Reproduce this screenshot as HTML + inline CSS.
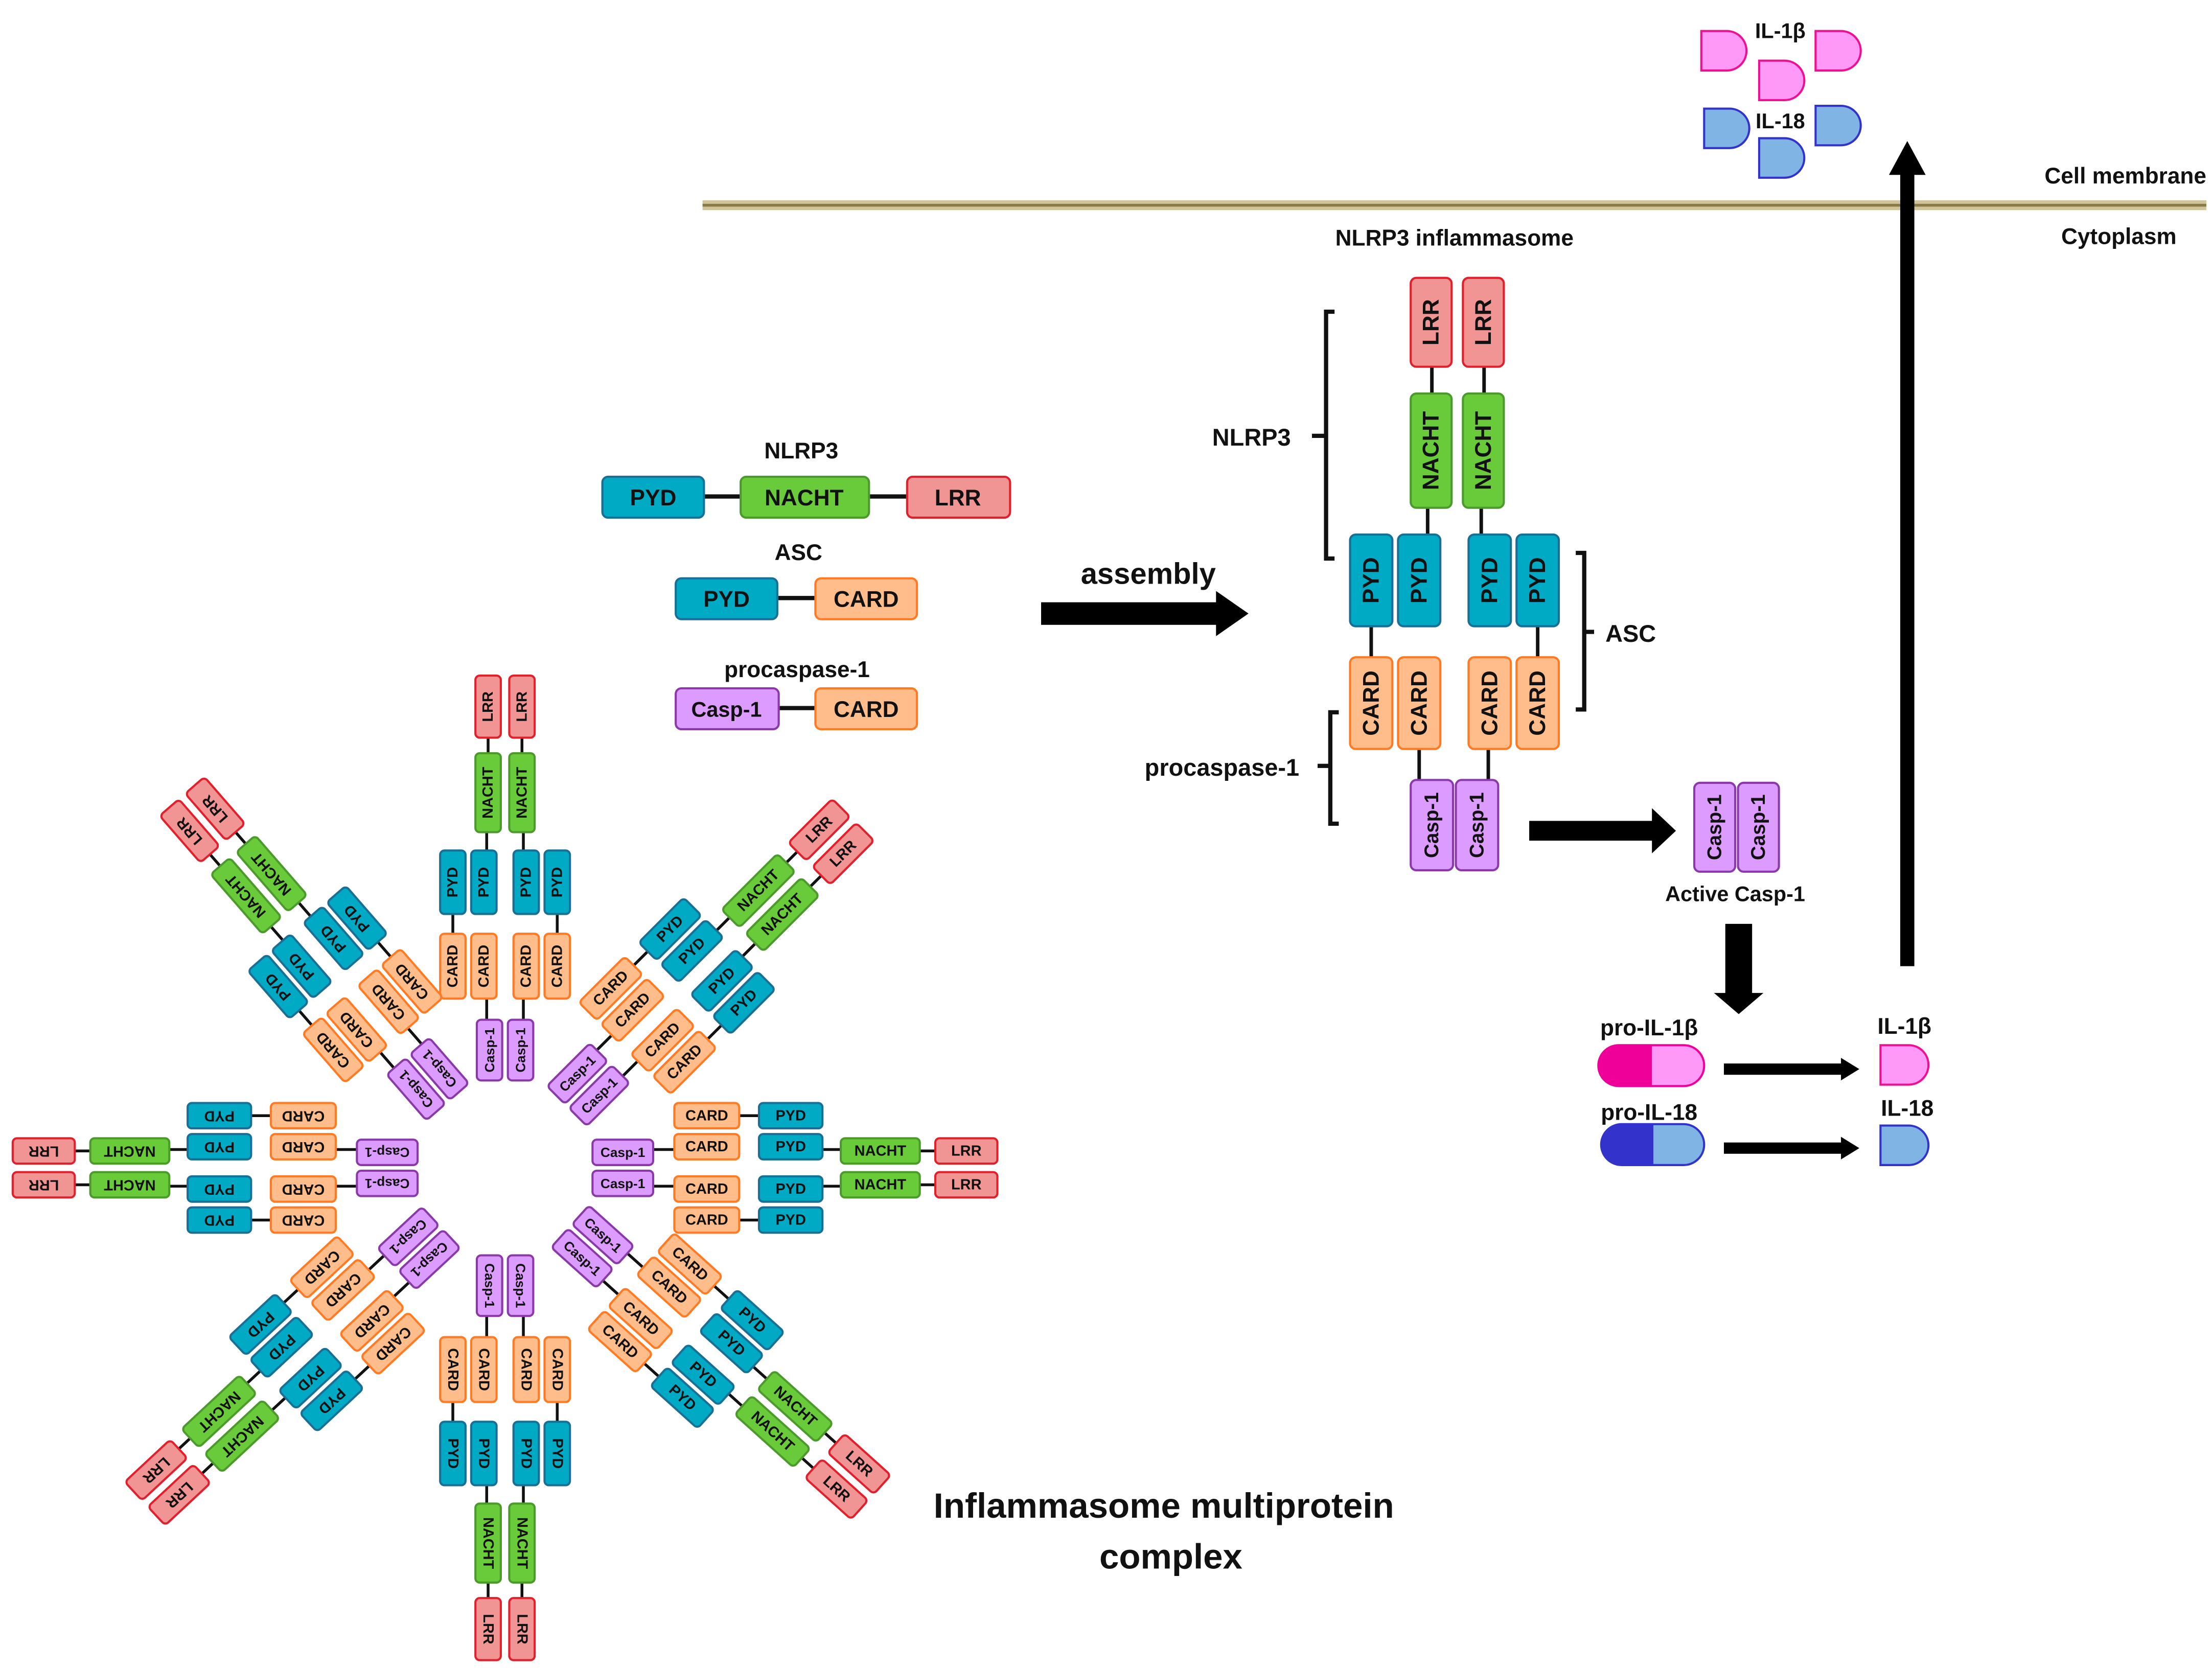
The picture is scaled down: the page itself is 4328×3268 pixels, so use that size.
<!DOCTYPE html>
<html><head><meta charset="utf-8">
<style>
html,body{margin:0;padding:0;background:#fff;}
svg{display:block;}
text{font-family:"Liberation Sans",sans-serif;font-weight:bold;fill:#111;}
.ln{stroke:#111;stroke-width:2;fill:none;}
.lnk{stroke:#111;stroke-width:3;fill:none;}
.pyd{fill:#00a9c4;stroke:#1a6f95;stroke-width:1.5;}
.nacht{fill:#6acb3a;stroke:#4c9a2c;stroke-width:1.5;}
.lrr{fill:#f09494;stroke:#e0202c;stroke-width:1.5;}
.card{fill:#ffbd8c;stroke:#ff7a22;stroke-width:1.5;}
.casp{fill:#dc9cff;stroke:#8a3aa8;stroke-width:1.5;}
.u text{font-size:10.5px;text-anchor:middle;dominant-baseline:central;}
.b text{font-size:16px;text-anchor:middle;dominant-baseline:central;}
</style></head>
<body>
<svg width="4328" height="3268" viewBox="0 0 1568 1184" preserveAspectRatio="none" xmlns="http://www.w3.org/2000/svg">
<defs></defs>
<rect width="1568" height="1184" fill="#fff"/>

<rect x="498" y="142" width="1066" height="7" fill="#cfc49c"/>
<rect x="498" y="144.5" width="1066" height="2" fill="#8a7c44"/>
<text x="1564" y="130" text-anchor="end" style="font-size:16px">Cell membrane</text>
<text x="1502" y="173" text-anchor="middle" style="font-size:16px">Cytoplasm</text>
<text x="1031" y="174" text-anchor="middle" style="font-size:16px">NLRP3 inflammasome</text>

<g stroke-width="1.5">
<path d="M1206,22H1224A14,14 0 0 1 1224,50H1206Z" fill="#ff99f8" stroke="#ee1090"/>
<path d="M1287,22H1305A14,14 0 0 1 1305,50H1287Z" fill="#ff99f8" stroke="#ee1090"/>
<path d="M1247,43H1265A14,14 0 0 1 1265,71H1247Z" fill="#ff99f8" stroke="#ee1090"/>
<path d="M1208,77H1226A14,14 0 0 1 1226,105H1208Z" fill="#80b4e4" stroke="#3333cc"/>
<path d="M1287,75H1305A14,14 0 0 1 1305,103H1287Z" fill="#80b4e4" stroke="#3333cc"/>
<path d="M1247,98H1265A14,14 0 0 1 1265,126H1247Z" fill="#80b4e4" stroke="#3333cc"/>
</g>
<text x="1262" y="27" text-anchor="middle" style="font-size:15px">IL-1β</text>
<text x="1262" y="91" text-anchor="middle" style="font-size:15px">IL-18</text>

<rect x="1347" y="122" width="10" height="563" fill="#000"/>
<path d="M1339,124L1352,100L1365,124Z" fill="#000"/>

<g class="b">
<text x="568" y="325" style="font-size:16px;dominant-baseline:auto">NLRP3</text>
<path class="lnk" d="M499,352H525M616,352H643"/>
<rect class="pyd" x="427" y="338" width="72" height="29" rx="4"/><text x="463" y="353">PYD</text>
<rect class="nacht" x="525" y="338" width="91" height="29" rx="4"/><text x="570" y="353">NACHT</text>
<rect class="lrr" x="643" y="338" width="73" height="29" rx="4"/><text x="679" y="353">LRR</text>
<text x="566" y="397" style="font-size:16px;dominant-baseline:auto">ASC</text>
<path class="lnk" d="M551,424H578"/>
<rect class="pyd" x="479" y="410" width="72" height="29" rx="4"/><text x="515" y="425">PYD</text>
<rect class="card" x="578" y="410" width="72" height="29" rx="4"/><text x="614" y="425">CARD</text>
<text x="565" y="480" style="font-size:16px;dominant-baseline:auto">procaspase-1</text>
<path class="lnk" d="M552,502H578"/>
<rect class="casp" x="479" y="488" width="73" height="29" rx="4"/><text x="515" y="503" style="font-size:15px">Casp-1</text>
<rect class="card" x="578" y="488" width="72" height="29" rx="4"/><text x="614" y="503">CARD</text>
</g>

<text x="814" y="414" text-anchor="middle" style="font-size:21px">assembly</text>
<rect x="738" y="427" width="126" height="16" fill="#000"/>
<path d="M862,419L885,435L862,451Z" fill="#000"/>

<g class="b">
<path class="ln" d="M1015,260V279M1052,260V279M1012,360V379M1050,360V379M972,444V466M1090,444V466M1006,531V553M1055,531V553" style="stroke-width:2.5"/>
<rect class="lrr" x="1000" y="197" width="29" height="63" rx="4"/><text transform="translate(1014.5,228.5) rotate(-90)">LRR</text>
<rect class="lrr" x="1037" y="197" width="29" height="63" rx="4"/><text transform="translate(1051.5,228.5) rotate(-90)">LRR</text>
<rect class="nacht" x="1000" y="279" width="29" height="81" rx="4"/><text transform="translate(1014.5,319.5) rotate(-90)">NACHT</text>
<rect class="nacht" x="1037" y="279" width="29" height="81" rx="4"/><text transform="translate(1051.5,319.5) rotate(-90)">NACHT</text>
<rect class="pyd" x="957" y="379" width="30" height="65" rx="4"/><text transform="translate(972,411.5) rotate(-90)">PYD</text>
<rect class="pyd" x="991" y="379" width="30" height="65" rx="4"/><text transform="translate(1006,411.5) rotate(-90)">PYD</text>
<rect class="pyd" x="1041" y="379" width="30" height="65" rx="4"/><text transform="translate(1056,411.5) rotate(-90)">PYD</text>
<rect class="pyd" x="1075" y="379" width="30" height="65" rx="4"/><text transform="translate(1090,411.5) rotate(-90)">PYD</text>
<rect class="card" x="957" y="466" width="30" height="65" rx="4"/><text transform="translate(972,498.5) rotate(-90)">CARD</text>
<rect class="card" x="991" y="466" width="30" height="65" rx="4"/><text transform="translate(1006,498.5) rotate(-90)">CARD</text>
<rect class="card" x="1041" y="466" width="30" height="65" rx="4"/><text transform="translate(1056,498.5) rotate(-90)">CARD</text>
<rect class="card" x="1075" y="466" width="30" height="65" rx="4"/><text transform="translate(1090,498.5) rotate(-90)">CARD</text>
<rect class="casp" x="1000" y="553" width="30" height="64" rx="4"/><text transform="translate(1015,585) rotate(-90)" style="font-size:14px">Casp-1</text>
<rect class="casp" x="1032" y="553" width="30" height="64" rx="4"/><text transform="translate(1047,585) rotate(-90)" style="font-size:14px">Casp-1</text>
<rect class="casp" x="1201" y="555" width="29" height="63" rx="4"/><text transform="translate(1215.5,586.5) rotate(-90)" style="font-size:14px">Casp-1</text>
<rect class="casp" x="1232" y="555" width="29" height="63" rx="4"/><text transform="translate(1246.5,586.5) rotate(-90)" style="font-size:14px">Casp-1</text>
</g>
<path class="lnk" d="M946,221H940V396H946M940,309H930"/>
<text x="915" y="316" text-anchor="end" style="font-size:17px">NLRP3</text>
<path class="lnk" d="M1117,392H1123V503H1117M1123,448H1130"/>
<text x="1138" y="455" style="font-size:17px">ASC</text>
<path class="lnk" d="M949,505H943V584H949M943,543H934"/>
<text x="921" y="550" text-anchor="end" style="font-size:17px">procaspase-1</text>

<rect x="1084" y="582" width="90" height="14" fill="#000"/>
<path d="M1171,573L1188,589L1171,605Z" fill="#000"/>
<text x="1230" y="639" text-anchor="middle" style="font-size:15px">Active Casp-1</text>
<rect x="1223" y="655" width="19" height="51" fill="#000"/>
<path d="M1215,704L1250,704L1232.5,719Z" fill="#000"/>

<text x="1169" y="734" text-anchor="middle" style="font-size:16px">pro-IL-1β</text>
<rect x="1133" y="741" width="75" height="29" rx="14.5" fill="#ff99f8"/>
<path d="M1171,741H1147.5A14.5,14.5 0 0 0 1147.5,770H1171Z" fill="#ee0099"/>
<rect x="1133" y="741" width="75" height="29" rx="14.5" fill="none" stroke="#ee0099" stroke-width="1.5"/>
<text x="1169" y="794" text-anchor="middle" style="font-size:16px">pro-IL-18</text>
<rect x="1135" y="797" width="73" height="29" rx="14.5" fill="#80b4e4"/>
<path d="M1172,797H1149.5A14.5,14.5 0 0 0 1149.5,826H1172Z" fill="#3333cc"/>
<rect x="1135" y="797" width="73" height="29" rx="14.5" fill="none" stroke="#3333cc" stroke-width="1.5"/>
<rect x="1222" y="754" width="84" height="8" fill="#000"/>
<path d="M1305,750L1318,758L1305,766Z" fill="#000"/>
<rect x="1222" y="810" width="84" height="8" fill="#000"/>
<path d="M1305,806L1318,814L1305,822Z" fill="#000"/>
<text x="1350" y="733" text-anchor="middle" style="font-size:16px">IL-1β</text>
<path d="M1333,741H1353A14,14 0 0 1 1353,769H1333Z" fill="#ff99f8" stroke="#ee1090" stroke-width="1.5"/>
<text x="1352" y="791" text-anchor="middle" style="font-size:16px">IL-18</text>
<path d="M1333,798H1353A14,14 0 0 1 1353,826H1333Z" fill="#80b4e4" stroke="#3333cc" stroke-width="1.5"/>

<text x="825" y="1076" text-anchor="middle" style="font-size:25px">Inflammasome multiprotein</text>
<text x="830" y="1112" text-anchor="middle" style="font-size:25px">complex</text>

<g class="u" transform="translate(358,828) rotate(0)">
<path class="ln" d="M-12-305V-294M12-305V-294M-13-238V-225M13-238V-225M-37-180V-166M37-180V-166M-13-120V-105M13-120V-105"/>
<rect class="lrr" x="-21" y="-349" width="18" height="44" rx="3"/><text transform="translate(-12,-327) rotate(-90)">LRR</text>
<rect class="lrr" x="3" y="-349" width="18" height="44" rx="3"/><text transform="translate(12,-327) rotate(-90)">LRR</text>
<rect class="nacht" x="-21" y="-294" width="18" height="56" rx="3"/><text transform="translate(-12,-266) rotate(-90)">NACHT</text>
<rect class="nacht" x="3" y="-294" width="18" height="56" rx="3"/><text transform="translate(12,-266) rotate(-90)">NACHT</text>
<rect class="pyd" x="-46" y="-225" width="18" height="45" rx="3"/><text transform="translate(-37,-202.5) rotate(-90)">PYD</text>
<rect class="pyd" x="-24" y="-225" width="18" height="45" rx="3"/><text transform="translate(-15,-202.5) rotate(-90)">PYD</text>
<rect class="pyd" x="6" y="-225" width="18" height="45" rx="3"/><text transform="translate(15,-202.5) rotate(-90)">PYD</text>
<rect class="pyd" x="28" y="-225" width="18" height="45" rx="3"/><text transform="translate(37,-202.5) rotate(-90)">PYD</text>
<rect class="card" x="-46" y="-166" width="18" height="46" rx="3"/><text transform="translate(-37,-143) rotate(-90)">CARD</text>
<rect class="card" x="-24" y="-166" width="18" height="46" rx="3"/><text transform="translate(-15,-143) rotate(-90)">CARD</text>
<rect class="card" x="6" y="-166" width="18" height="46" rx="3"/><text transform="translate(15,-143) rotate(-90)">CARD</text>
<rect class="card" x="28" y="-166" width="18" height="46" rx="3"/><text transform="translate(37,-143) rotate(-90)">CARD</text>
<rect class="casp" x="-20" y="-105" width="18" height="43" rx="3"/><text transform="translate(-11,-83.5) rotate(-90)" style="font-size:9.5px">Casp-1</text>
<rect class="casp" x="2" y="-105" width="18" height="43" rx="3"/><text transform="translate(11,-83.5) rotate(-90)" style="font-size:9.5px">Casp-1</text>
</g>
<g class="u" transform="translate(358,828) rotate(45)">
<path class="ln" d="M-12-305V-294M12-305V-294M-13-238V-225M13-238V-225M-37-180V-166M37-180V-166M-13-120V-105M13-120V-105"/>
<rect class="lrr" x="-21" y="-349" width="18" height="44" rx="3"/><text transform="translate(-12,-327) rotate(-90)">LRR</text>
<rect class="lrr" x="3" y="-349" width="18" height="44" rx="3"/><text transform="translate(12,-327) rotate(-90)">LRR</text>
<rect class="nacht" x="-21" y="-294" width="18" height="56" rx="3"/><text transform="translate(-12,-266) rotate(-90)">NACHT</text>
<rect class="nacht" x="3" y="-294" width="18" height="56" rx="3"/><text transform="translate(12,-266) rotate(-90)">NACHT</text>
<rect class="pyd" x="-46" y="-225" width="18" height="45" rx="3"/><text transform="translate(-37,-202.5) rotate(-90)">PYD</text>
<rect class="pyd" x="-24" y="-225" width="18" height="45" rx="3"/><text transform="translate(-15,-202.5) rotate(-90)">PYD</text>
<rect class="pyd" x="6" y="-225" width="18" height="45" rx="3"/><text transform="translate(15,-202.5) rotate(-90)">PYD</text>
<rect class="pyd" x="28" y="-225" width="18" height="45" rx="3"/><text transform="translate(37,-202.5) rotate(-90)">PYD</text>
<rect class="card" x="-46" y="-166" width="18" height="46" rx="3"/><text transform="translate(-37,-143) rotate(-90)">CARD</text>
<rect class="card" x="-24" y="-166" width="18" height="46" rx="3"/><text transform="translate(-15,-143) rotate(-90)">CARD</text>
<rect class="card" x="6" y="-166" width="18" height="46" rx="3"/><text transform="translate(15,-143) rotate(-90)">CARD</text>
<rect class="card" x="28" y="-166" width="18" height="46" rx="3"/><text transform="translate(37,-143) rotate(-90)">CARD</text>
<rect class="casp" x="-20" y="-105" width="18" height="43" rx="3"/><text transform="translate(-11,-83.5) rotate(-90)" style="font-size:9.5px">Casp-1</text>
<rect class="casp" x="2" y="-105" width="18" height="43" rx="3"/><text transform="translate(11,-83.5) rotate(-90)" style="font-size:9.5px">Casp-1</text>
</g>
<g class="u" transform="translate(358,828) rotate(90)">
<path class="ln" d="M-12-305V-294M12-305V-294M-13-238V-225M13-238V-225M-37-180V-166M37-180V-166M-13-120V-105M13-120V-105"/>
<rect class="lrr" x="-21" y="-349" width="18" height="44" rx="3"/><text transform="translate(-12,-327) rotate(-90)">LRR</text>
<rect class="lrr" x="3" y="-349" width="18" height="44" rx="3"/><text transform="translate(12,-327) rotate(-90)">LRR</text>
<rect class="nacht" x="-21" y="-294" width="18" height="56" rx="3"/><text transform="translate(-12,-266) rotate(-90)">NACHT</text>
<rect class="nacht" x="3" y="-294" width="18" height="56" rx="3"/><text transform="translate(12,-266) rotate(-90)">NACHT</text>
<rect class="pyd" x="-46" y="-225" width="18" height="45" rx="3"/><text transform="translate(-37,-202.5) rotate(-90)">PYD</text>
<rect class="pyd" x="-24" y="-225" width="18" height="45" rx="3"/><text transform="translate(-15,-202.5) rotate(-90)">PYD</text>
<rect class="pyd" x="6" y="-225" width="18" height="45" rx="3"/><text transform="translate(15,-202.5) rotate(-90)">PYD</text>
<rect class="pyd" x="28" y="-225" width="18" height="45" rx="3"/><text transform="translate(37,-202.5) rotate(-90)">PYD</text>
<rect class="card" x="-46" y="-166" width="18" height="46" rx="3"/><text transform="translate(-37,-143) rotate(-90)">CARD</text>
<rect class="card" x="-24" y="-166" width="18" height="46" rx="3"/><text transform="translate(-15,-143) rotate(-90)">CARD</text>
<rect class="card" x="6" y="-166" width="18" height="46" rx="3"/><text transform="translate(15,-143) rotate(-90)">CARD</text>
<rect class="card" x="28" y="-166" width="18" height="46" rx="3"/><text transform="translate(37,-143) rotate(-90)">CARD</text>
<rect class="casp" x="-20" y="-105" width="18" height="43" rx="3"/><text transform="translate(-11,-83.5) rotate(-90)" style="font-size:9.5px">Casp-1</text>
<rect class="casp" x="2" y="-105" width="18" height="43" rx="3"/><text transform="translate(11,-83.5) rotate(-90)" style="font-size:9.5px">Casp-1</text>
</g>
<g class="u" transform="translate(358,828) rotate(132)">
<path class="ln" d="M-12-305V-294M12-305V-294M-13-238V-225M13-238V-225M-37-180V-166M37-180V-166M-13-120V-105M13-120V-105"/>
<rect class="lrr" x="-21" y="-349" width="18" height="44" rx="3"/><text transform="translate(-12,-327) rotate(-90)">LRR</text>
<rect class="lrr" x="3" y="-349" width="18" height="44" rx="3"/><text transform="translate(12,-327) rotate(-90)">LRR</text>
<rect class="nacht" x="-21" y="-294" width="18" height="56" rx="3"/><text transform="translate(-12,-266) rotate(-90)">NACHT</text>
<rect class="nacht" x="3" y="-294" width="18" height="56" rx="3"/><text transform="translate(12,-266) rotate(-90)">NACHT</text>
<rect class="pyd" x="-46" y="-225" width="18" height="45" rx="3"/><text transform="translate(-37,-202.5) rotate(-90)">PYD</text>
<rect class="pyd" x="-24" y="-225" width="18" height="45" rx="3"/><text transform="translate(-15,-202.5) rotate(-90)">PYD</text>
<rect class="pyd" x="6" y="-225" width="18" height="45" rx="3"/><text transform="translate(15,-202.5) rotate(-90)">PYD</text>
<rect class="pyd" x="28" y="-225" width="18" height="45" rx="3"/><text transform="translate(37,-202.5) rotate(-90)">PYD</text>
<rect class="card" x="-46" y="-166" width="18" height="46" rx="3"/><text transform="translate(-37,-143) rotate(-90)">CARD</text>
<rect class="card" x="-24" y="-166" width="18" height="46" rx="3"/><text transform="translate(-15,-143) rotate(-90)">CARD</text>
<rect class="card" x="6" y="-166" width="18" height="46" rx="3"/><text transform="translate(15,-143) rotate(-90)">CARD</text>
<rect class="card" x="28" y="-166" width="18" height="46" rx="3"/><text transform="translate(37,-143) rotate(-90)">CARD</text>
<rect class="casp" x="-20" y="-105" width="18" height="43" rx="3"/><text transform="translate(-11,-83.5) rotate(-90)" style="font-size:9.5px">Casp-1</text>
<rect class="casp" x="2" y="-105" width="18" height="43" rx="3"/><text transform="translate(11,-83.5) rotate(-90)" style="font-size:9.5px">Casp-1</text>
</g>
<g class="u" transform="translate(358,828) rotate(180)">
<path class="ln" d="M-12-305V-294M12-305V-294M-13-238V-225M13-238V-225M-37-180V-166M37-180V-166M-13-120V-105M13-120V-105"/>
<rect class="lrr" x="-21" y="-349" width="18" height="44" rx="3"/><text transform="translate(-12,-327) rotate(-90)">LRR</text>
<rect class="lrr" x="3" y="-349" width="18" height="44" rx="3"/><text transform="translate(12,-327) rotate(-90)">LRR</text>
<rect class="nacht" x="-21" y="-294" width="18" height="56" rx="3"/><text transform="translate(-12,-266) rotate(-90)">NACHT</text>
<rect class="nacht" x="3" y="-294" width="18" height="56" rx="3"/><text transform="translate(12,-266) rotate(-90)">NACHT</text>
<rect class="pyd" x="-46" y="-225" width="18" height="45" rx="3"/><text transform="translate(-37,-202.5) rotate(-90)">PYD</text>
<rect class="pyd" x="-24" y="-225" width="18" height="45" rx="3"/><text transform="translate(-15,-202.5) rotate(-90)">PYD</text>
<rect class="pyd" x="6" y="-225" width="18" height="45" rx="3"/><text transform="translate(15,-202.5) rotate(-90)">PYD</text>
<rect class="pyd" x="28" y="-225" width="18" height="45" rx="3"/><text transform="translate(37,-202.5) rotate(-90)">PYD</text>
<rect class="card" x="-46" y="-166" width="18" height="46" rx="3"/><text transform="translate(-37,-143) rotate(-90)">CARD</text>
<rect class="card" x="-24" y="-166" width="18" height="46" rx="3"/><text transform="translate(-15,-143) rotate(-90)">CARD</text>
<rect class="card" x="6" y="-166" width="18" height="46" rx="3"/><text transform="translate(15,-143) rotate(-90)">CARD</text>
<rect class="card" x="28" y="-166" width="18" height="46" rx="3"/><text transform="translate(37,-143) rotate(-90)">CARD</text>
<rect class="casp" x="-20" y="-105" width="18" height="43" rx="3"/><text transform="translate(-11,-83.5) rotate(-90)" style="font-size:9.5px">Casp-1</text>
<rect class="casp" x="2" y="-105" width="18" height="43" rx="3"/><text transform="translate(11,-83.5) rotate(-90)" style="font-size:9.5px">Casp-1</text>
</g>
<g class="u" transform="translate(358,828) rotate(227)">
<path class="ln" d="M-12-305V-294M12-305V-294M-13-238V-225M13-238V-225M-37-180V-166M37-180V-166M-13-120V-105M13-120V-105"/>
<rect class="lrr" x="-21" y="-349" width="18" height="44" rx="3"/><text transform="translate(-12,-327) rotate(-90)">LRR</text>
<rect class="lrr" x="3" y="-349" width="18" height="44" rx="3"/><text transform="translate(12,-327) rotate(-90)">LRR</text>
<rect class="nacht" x="-21" y="-294" width="18" height="56" rx="3"/><text transform="translate(-12,-266) rotate(-90)">NACHT</text>
<rect class="nacht" x="3" y="-294" width="18" height="56" rx="3"/><text transform="translate(12,-266) rotate(-90)">NACHT</text>
<rect class="pyd" x="-46" y="-225" width="18" height="45" rx="3"/><text transform="translate(-37,-202.5) rotate(-90)">PYD</text>
<rect class="pyd" x="-24" y="-225" width="18" height="45" rx="3"/><text transform="translate(-15,-202.5) rotate(-90)">PYD</text>
<rect class="pyd" x="6" y="-225" width="18" height="45" rx="3"/><text transform="translate(15,-202.5) rotate(-90)">PYD</text>
<rect class="pyd" x="28" y="-225" width="18" height="45" rx="3"/><text transform="translate(37,-202.5) rotate(-90)">PYD</text>
<rect class="card" x="-46" y="-166" width="18" height="46" rx="3"/><text transform="translate(-37,-143) rotate(-90)">CARD</text>
<rect class="card" x="-24" y="-166" width="18" height="46" rx="3"/><text transform="translate(-15,-143) rotate(-90)">CARD</text>
<rect class="card" x="6" y="-166" width="18" height="46" rx="3"/><text transform="translate(15,-143) rotate(-90)">CARD</text>
<rect class="card" x="28" y="-166" width="18" height="46" rx="3"/><text transform="translate(37,-143) rotate(-90)">CARD</text>
<rect class="casp" x="-20" y="-105" width="18" height="43" rx="3"/><text transform="translate(-11,-83.5) rotate(-90)" style="font-size:9.5px">Casp-1</text>
<rect class="casp" x="2" y="-105" width="18" height="43" rx="3"/><text transform="translate(11,-83.5) rotate(-90)" style="font-size:9.5px">Casp-1</text>
</g>
<g class="u" transform="translate(358,828) rotate(270)">
<path class="ln" d="M-12-305V-294M12-305V-294M-13-238V-225M13-238V-225M-37-180V-166M37-180V-166M-13-120V-105M13-120V-105"/>
<rect class="lrr" x="-21" y="-349" width="18" height="44" rx="3"/><text transform="translate(-12,-327) rotate(-90)">LRR</text>
<rect class="lrr" x="3" y="-349" width="18" height="44" rx="3"/><text transform="translate(12,-327) rotate(-90)">LRR</text>
<rect class="nacht" x="-21" y="-294" width="18" height="56" rx="3"/><text transform="translate(-12,-266) rotate(-90)">NACHT</text>
<rect class="nacht" x="3" y="-294" width="18" height="56" rx="3"/><text transform="translate(12,-266) rotate(-90)">NACHT</text>
<rect class="pyd" x="-46" y="-225" width="18" height="45" rx="3"/><text transform="translate(-37,-202.5) rotate(-90)">PYD</text>
<rect class="pyd" x="-24" y="-225" width="18" height="45" rx="3"/><text transform="translate(-15,-202.5) rotate(-90)">PYD</text>
<rect class="pyd" x="6" y="-225" width="18" height="45" rx="3"/><text transform="translate(15,-202.5) rotate(-90)">PYD</text>
<rect class="pyd" x="28" y="-225" width="18" height="45" rx="3"/><text transform="translate(37,-202.5) rotate(-90)">PYD</text>
<rect class="card" x="-46" y="-166" width="18" height="46" rx="3"/><text transform="translate(-37,-143) rotate(-90)">CARD</text>
<rect class="card" x="-24" y="-166" width="18" height="46" rx="3"/><text transform="translate(-15,-143) rotate(-90)">CARD</text>
<rect class="card" x="6" y="-166" width="18" height="46" rx="3"/><text transform="translate(15,-143) rotate(-90)">CARD</text>
<rect class="card" x="28" y="-166" width="18" height="46" rx="3"/><text transform="translate(37,-143) rotate(-90)">CARD</text>
<rect class="casp" x="-20" y="-105" width="18" height="43" rx="3"/><text transform="translate(-11,-83.5) rotate(-90)" style="font-size:9.5px">Casp-1</text>
<rect class="casp" x="2" y="-105" width="18" height="43" rx="3"/><text transform="translate(11,-83.5) rotate(-90)" style="font-size:9.5px">Casp-1</text>
</g>
<g class="u" transform="translate(358,828) rotate(319)">
<path class="ln" d="M-12-305V-294M12-305V-294M-13-238V-225M13-238V-225M-37-180V-166M37-180V-166M-13-120V-105M13-120V-105"/>
<rect class="lrr" x="-21" y="-349" width="18" height="44" rx="3"/><text transform="translate(-12,-327) rotate(-90)">LRR</text>
<rect class="lrr" x="3" y="-349" width="18" height="44" rx="3"/><text transform="translate(12,-327) rotate(-90)">LRR</text>
<rect class="nacht" x="-21" y="-294" width="18" height="56" rx="3"/><text transform="translate(-12,-266) rotate(-90)">NACHT</text>
<rect class="nacht" x="3" y="-294" width="18" height="56" rx="3"/><text transform="translate(12,-266) rotate(-90)">NACHT</text>
<rect class="pyd" x="-46" y="-225" width="18" height="45" rx="3"/><text transform="translate(-37,-202.5) rotate(-90)">PYD</text>
<rect class="pyd" x="-24" y="-225" width="18" height="45" rx="3"/><text transform="translate(-15,-202.5) rotate(-90)">PYD</text>
<rect class="pyd" x="6" y="-225" width="18" height="45" rx="3"/><text transform="translate(15,-202.5) rotate(-90)">PYD</text>
<rect class="pyd" x="28" y="-225" width="18" height="45" rx="3"/><text transform="translate(37,-202.5) rotate(-90)">PYD</text>
<rect class="card" x="-46" y="-166" width="18" height="46" rx="3"/><text transform="translate(-37,-143) rotate(-90)">CARD</text>
<rect class="card" x="-24" y="-166" width="18" height="46" rx="3"/><text transform="translate(-15,-143) rotate(-90)">CARD</text>
<rect class="card" x="6" y="-166" width="18" height="46" rx="3"/><text transform="translate(15,-143) rotate(-90)">CARD</text>
<rect class="card" x="28" y="-166" width="18" height="46" rx="3"/><text transform="translate(37,-143) rotate(-90)">CARD</text>
<rect class="casp" x="-20" y="-105" width="18" height="43" rx="3"/><text transform="translate(-11,-83.5) rotate(-90)" style="font-size:9.5px">Casp-1</text>
<rect class="casp" x="2" y="-105" width="18" height="43" rx="3"/><text transform="translate(11,-83.5) rotate(-90)" style="font-size:9.5px">Casp-1</text>
</g>
</svg>
</body></html>
